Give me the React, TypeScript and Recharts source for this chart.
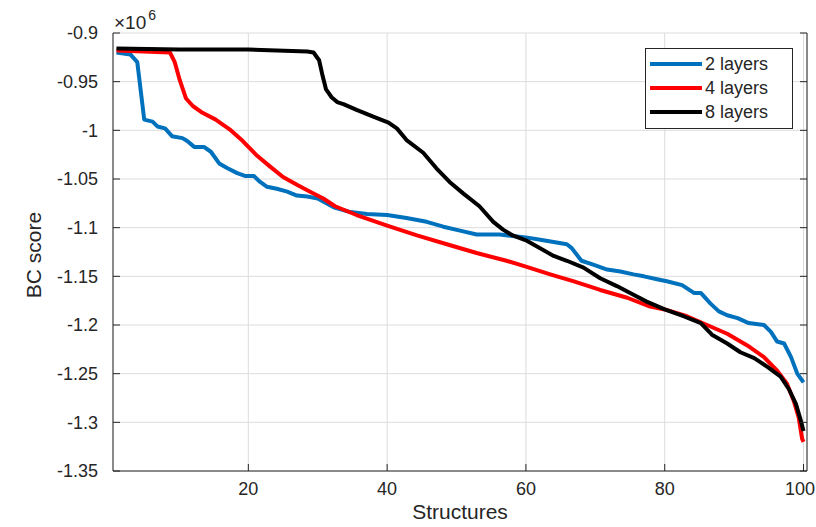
import React from 'react';
import { LineChart, Line, XAxis, YAxis, CartesianGrid, Legend } from 'recharts';

// values, score axis in units of 1e6
const structures2 = [1, 3, 4, 5, 6.2, 6.9, 8, 9, 10.5, 11.2, 12.2, 13.6, 14.6, 15.8, 17, 18.4, 19.6, 20.8, 21.7, 22.7, 24.1, 25.6, 27, 28.5, 30, 32.3, 34.7, 37.1, 40, 42.8, 45.7, 48.1, 50.5, 52.9, 56.2, 60, 62.5, 65.9, 66.6, 68, 69.7, 71.7, 73.6, 75.5, 77, 78.9, 80.3, 82.5, 84.2, 85.2, 86.6, 87.8, 89, 90.5, 92.1, 94.3, 95.3, 96.2, 97.2, 98.2, 99.1, 100];
const score2 = [-0.92, -0.922, -0.93, -0.989, -0.991, -0.996, -0.998, -1.006, -1.008, -1.011, -1.017, -1.017, -1.022, -1.034, -1.039, -1.044, -1.047, -1.047, -1.053, -1.058, -1.06, -1.063, -1.067, -1.068, -1.07, -1.079, -1.084, -1.086, -1.087, -1.09, -1.094, -1.099, -1.103, -1.107, -1.107, -1.11, -1.113, -1.117, -1.121, -1.134, -1.138, -1.143, -1.145, -1.148, -1.15, -1.153, -1.155, -1.159, -1.167, -1.167, -1.178, -1.186, -1.19, -1.193, -1.198, -1.2, -1.207, -1.217, -1.219, -1.233, -1.25, -1.259];

const structures4 = [1, 8.7, 9.4, 10.1, 11, 12, 13.4, 15.3, 17.3, 19.2, 21.1, 23.1, 25, 27, 28.9, 30.8, 32.5, 35.6, 40, 44.3, 48.6, 52.9, 57.2, 60, 63.5, 66.8, 70.7, 74.6, 77.9, 80, 83.2, 86.1, 89, 91.9, 94.3, 96.2, 97.6, 98.6, 99.3, 99.8, 100];
const score4 = [-0.918, -0.92, -0.93, -0.948, -0.967, -0.975, -0.982, -0.989, -0.999, -1.011, -1.025, -1.037, -1.048, -1.056, -1.063, -1.07, -1.078, -1.087, -1.098, -1.108, -1.117, -1.126, -1.134, -1.14, -1.148, -1.155, -1.164, -1.172, -1.181, -1.184, -1.191, -1.2, -1.209, -1.221, -1.233, -1.247, -1.26, -1.278, -1.295, -1.317, -1.32];

const structures8 = [1, 10, 20, 28.5, 29.4, 30.2, 30.7, 31.2, 32, 32.8, 33.7, 35.6, 38, 40.2, 41.4, 42.8, 45.2, 47.1, 49, 51, 53.3, 55.3, 56.7, 58.1, 60, 64, 65.9, 68.3, 70.7, 73.1, 75.5, 77.4, 80, 82.7, 85.2, 86.8, 89, 90.9, 92.9, 94.8, 96.7, 97.9, 98.9, 99.6, 100];
const score8 = [-0.916, -0.917, -0.917, -0.919, -0.92, -0.928, -0.944, -0.958, -0.966, -0.971, -0.973, -0.979, -0.986, -0.992, -0.998, -1.01, -1.023, -1.039, -1.053, -1.065, -1.078, -1.094, -1.102, -1.108, -1.113, -1.129, -1.134, -1.141, -1.152, -1.16, -1.169, -1.176, -1.184, -1.191, -1.198, -1.21, -1.219, -1.228, -1.234, -1.243, -1.253, -1.266, -1.281, -1.298, -1.309];

const xTicks = [20, 40, 60, 80, 100];
const yTicks = [-1.35, -1.3, -1.25, -1.2, -1.15, -1.1, -1.05, -1, -0.95, -0.9];

const seriesNames = ['2 layers', '4 layers', '8 layers'];
const seriesColors = ['#0072BD', '#FF0000', '#000000'];

const FONT = '"Liberation Sans", Arial, Helvetica, sans-serif';
const INK = '#262626';
const TICK = 7;
const W = 816;
const H = 527;

const toPoints = (xs: number[], ys: number[]) => xs.map((s, i) => ({ s, v: ys[i] }));
const layers2 = toPoints(structures2, score2);
const layers4 = toPoints(structures4, score4);
const layers8 = toPoints(structures8, score8);

const LeftTick = ({ x, y, payload }: any) => (
  <g>
    <line x1={x} y1={y} x2={x + TICK} y2={y} stroke={INK} />
    <text x={x - 15} y={y} dy="0.35em" textAnchor="end" fill={INK} fontSize={18} fontFamily={FONT}>
      {String(payload.value)}
    </text>
  </g>
);

const RightTick = ({ x, y }: any) => <line x1={x} y1={y} x2={x - TICK} y2={y} stroke={INK} />;

const BottomTick = ({ x, y, payload }: any) => {
  const label = String(payload.value);
  // keep the last label inside the page
  const half = label.length * 0.556 * 18 / 2;
  const tx = Math.min(x, W - half - 1);
  return (
    <g>
      <line x1={x} y1={y} x2={x} y2={y - TICK} stroke={INK} />
      <text x={tx} y={y + 18} dy="0.35em" textAnchor="middle" fill={INK} fontSize={18} fontFamily={FONT}>
        {label}
      </text>
    </g>
  );
};

const TopTick = ({ x, y }: any) => <line x1={x} y1={y} x2={x} y2={y + TICK} stroke={INK} />;

const LegendBox = () => (
  <div
    style={{
      border: `1px solid ${INK}`,
      background: '#fff',
      padding: '3px 8px 4px 4px',
      fontFamily: FONT,
      fontSize: 18,
      color: INK,
      lineHeight: '24px',
      boxSizing: 'border-box',
    }}
  >
    {seriesNames.map((name, i) => (
      <div key={name} style={{ display: 'flex', alignItems: 'center', height: 24 }}>
        <span style={{ display: 'inline-block', width: 52, height: 4, background: seriesColors[i], marginRight: 3 }} />
        <span>{name}</span>
      </div>
    ))}
  </div>
);

const YLabels = (p: any) => {
  const vb = p?.viewBox ?? { x: 0, y: 33, width: 113, height: 438 };
  const cx = vb.x + 34;
  const cy = vb.y + vb.height / 2 + 3;
  return (
    <g>
      <text x={cx} y={cy} transform={`rotate(-90 ${cx} ${cy})`} textAnchor="middle" dy="0.35em" fill={INK} fontSize={21} fontFamily={FONT}>
        BC score
      </text>
      <text x={vb.x + vb.width + 1} y={vb.y - 4} fill={INK} fontSize={19} fontFamily={FONT}>
        ×10<tspan dx={2} dy={-9} fontSize={14}>6</tspan>
      </text>
    </g>
  );
};

export default function App() {
  return (
    <div style={{ position: 'absolute', left: 0, top: 0, width: W, height: H, background: '#fff' }}>
      <LineChart width={W} height={H} margin={{ top: 33, right: 8, bottom: 0, left: 0 }}>
        <CartesianGrid stroke="#dcdcdc" />
        <XAxis
          dataKey="s"
          type="number"
          domain={[0.5, 100.5]}
          ticks={xTicks}
          allowDataOverflow
          height={56}
          stroke={INK}
          tickSize={0}
          tickMargin={0}
          tick={<BottomTick />}
          label={{ value: 'Structures', position: 'insideBottom', offset: 8, fill: INK, fontSize: 21, fontFamily: FONT }}
        />
        <XAxis
          xAxisId="top"
          orientation="top"
          type="number"
          domain={[0.5, 100.5]}
          ticks={xTicks}
          allowDataOverflow
          height={0}
          stroke={INK}
          tickSize={0}
          tickMargin={0}
          tick={<TopTick />}
        />
        <YAxis
          type="number"
          domain={[-1.35, -0.9]}
          ticks={yTicks}
          allowDataOverflow
          width={113}
          stroke={INK}
          tickSize={0}
          tickMargin={0}
          tick={<LeftTick />}
          label={YLabels}
        />
        <YAxis
          yAxisId="right"
          orientation="right"
          type="number"
          domain={[-1.35, -0.9]}
          ticks={yTicks}
          allowDataOverflow
          width={1}
          stroke={INK}
          tickSize={0}
          tickMargin={0}
          tick={<RightTick />}
        />
        <Line data={layers2} dataKey="v" name={seriesNames[0]} stroke={seriesColors[0]} strokeWidth={4} dot={false} strokeLinejoin="round" isAnimationActive={false} />
        <Line data={layers4} dataKey="v" name={seriesNames[1]} stroke={seriesColors[1]} strokeWidth={4} dot={false} strokeLinejoin="round" isAnimationActive={false} />
        <Line data={layers8} dataKey="v" name={seriesNames[2]} stroke={seriesColors[2]} strokeWidth={4} dot={false} strokeLinejoin="round" isAnimationActive={false} />
        <Legend
          layout="horizontal"
          align="center"
          verticalAlign="middle"
          content={<LegendBox />}
          wrapperStyle={{ left: 645, top: 48, width: 148, height: 81 }}
        />
      </LineChart>
    </div>
  );
}
